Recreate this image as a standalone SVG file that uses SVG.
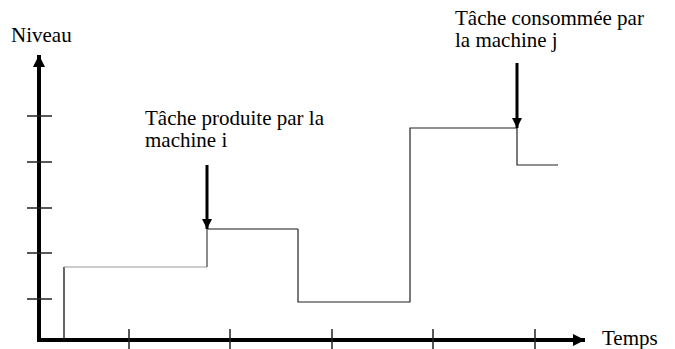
<svg xmlns="http://www.w3.org/2000/svg" width="675" height="349" viewBox="0 0 675 349">
<style>
text{font-family:"Liberation Serif","Times New Roman",serif;font-size:21px;fill:#000}
.axis{stroke:#000;stroke-width:4;fill:none}
.tick{stroke:#222;stroke-width:1.5}
.arr{stroke:#000;stroke-width:3}
</style>
<defs>
<marker id="ah" viewBox="0 0 10 10" refX="10" refY="5" markerWidth="10" markerHeight="10" markerUnits="userSpaceOnUse" orient="auto">
<path d="M0,0 L10,5 L0,10 z" fill="#000"/>
</marker>
<marker id="ahBig" viewBox="0 0 10 10" refX="10" refY="5" markerWidth="14" markerHeight="12" markerUnits="userSpaceOnUse" orient="auto">
<path d="M0,0 L10,5 L0,10 z" fill="#000"/>
</marker>
</defs>
<g id="axes">
<line class="axis" x1="39" y1="342" x2="39" y2="55" marker-end="url(#ahBig)"/>
<line class="axis" x1="37" y1="340" x2="585" y2="340" marker-end="url(#ahBig)"/>
<g class="tick">
<line x1="27" y1="116" x2="52" y2="116"/>
<line x1="27" y1="162" x2="52" y2="162"/>
<line x1="27" y1="208" x2="52" y2="208"/>
<line x1="27" y1="253" x2="52" y2="253"/>
<line x1="27" y1="299" x2="52" y2="299"/>
<line x1="129" y1="329" x2="129" y2="349"/>
<line x1="230" y1="329" x2="230" y2="349"/>
<line x1="332" y1="329" x2="332" y2="349"/>
<line x1="433" y1="329" x2="433" y2="349"/>
<line x1="535" y1="329" x2="535" y2="349"/>
</g>
<text x="11" y="42">Niveau</text>
<text x="602" y="345">Temps</text>
</g>
<g id="level">
<path d="M64,340 V267" stroke="#000" stroke-width="1.2" fill="none"/>
<path d="M64,267 H207" stroke="#999" stroke-width="1.2" fill="none"/>
<path d="M207,267 V229 H298" stroke="#666" stroke-width="1.5" fill="none"/>
<path d="M298,229 V302 H410 V128 H517 V165 H558" stroke="#222" stroke-width="1.2" fill="none"/>
</g>
<g id="connectors">
<line class="arr" x1="207" y1="165" x2="207" y2="229" marker-end="url(#ah)"/>
<line class="arr" x1="517" y1="63" x2="517" y2="128" marker-end="url(#ah)"/>
</g>
<g id="label-i">
<text x="145" y="125">Tâche produite par la</text>
<text x="145" y="147">machine i</text>
</g>
<g id="label-j">
<text x="455" y="25">Tâche consommée par</text>
<text x="455" y="47">la machine j</text>
</g>
</svg>
